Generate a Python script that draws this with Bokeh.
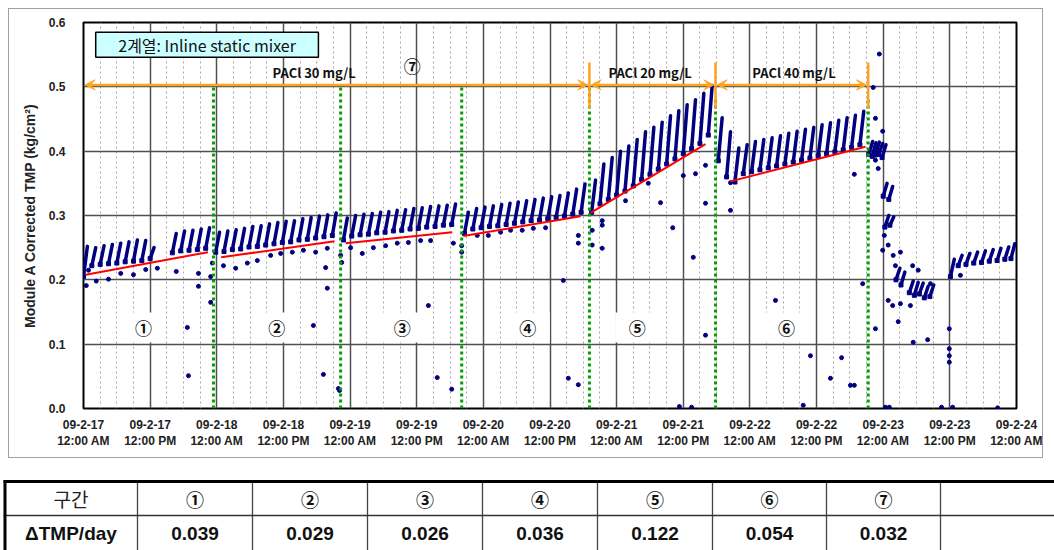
from bokeh.plotting import figure
from bokeh.layouts import column
from bokeh.models import (Range1d, FixedTicker, NumeralTickFormatter, Arrow,
                          VeeHead, ColumnDataSource, InlineStyleSheet)
from bokeh.core.properties import value
from bokeh.embed import file_html
from bokeh.resources import INLINE

# ---------------- data (x in hours since 09-2-17 12:00 AM) ----------------
x_tick_hours = [0, 12, 24, 36, 48, 60, 72, 84, 96, 108, 120, 132, 144, 156, 168]
x_tick_labels = ["09-2-17\n12:00 AM", "09-2-17\n12:00 PM", "09-2-18\n12:00 AM",
                 "09-2-18\n12:00 PM", "09-2-19\n12:00 AM", "09-2-19\n12:00 PM",
                 "09-2-20\n12:00 AM", "09-2-20\n12:00 PM", "09-2-21\n12:00 AM",
                 "09-2-21\n12:00 PM", "09-2-22\n12:00 AM", "09-2-22\n12:00 PM",
                 "09-2-23\n12:00 AM", "09-2-23\n12:00 PM", "09-2-24\n12:00 AM"]
y_ticks = [0.0, 0.1, 0.2, 0.3, 0.4, 0.5, 0.6]

# filtration cycles (saw teeth): start hour, TMP at start, TMP at end
seg1_t = [0.0, 1.5, 3.0, 4.5, 6.0, 7.5, 9.0, 10.5, 12.0]
seg1_lo = [0.205, 0.222, 0.224, 0.225, 0.226, 0.228, 0.229, 0.230, 0.233]
seg1_hi = [0.252, 0.250, 0.253, 0.255, 0.257, 0.259, 0.262, 0.261, 0.250]

seg2_t = [16.0, 17.5, 19.0, 20.5, 22.0]
seg2_lo = [0.242, 0.245, 0.246, 0.247, 0.249]
seg2_hi = [0.272, 0.276, 0.277, 0.279, 0.281]

seg3_t = [23.8, 25.3, 26.8, 28.3, 29.8, 31.3, 32.8, 34.3, 35.8, 37.3, 38.8, 40.3, 41.8, 43.3, 44.8]
seg3_lo = [0.243, 0.244, 0.247, 0.248, 0.251, 0.252, 0.254, 0.256, 0.258, 0.259, 0.262, 0.263, 0.265, 0.267, 0.269]
seg3_hi = [0.274, 0.276, 0.278, 0.280, 0.283, 0.284, 0.287, 0.289, 0.291, 0.292, 0.295, 0.297, 0.299, 0.301, 0.304]

seg4_t = [46.8, 48.3, 49.8, 51.3, 52.8, 54.3, 55.8, 57.3, 58.8, 60.3, 61.8, 63.3, 64.8, 66.3]
seg4_lo = [0.262, 0.268, 0.270, 0.271, 0.273, 0.274, 0.276, 0.277, 0.279, 0.280, 0.282, 0.283, 0.285, 0.286]
seg4_hi = [0.296, 0.300, 0.302, 0.303, 0.305, 0.306, 0.308, 0.309, 0.311, 0.312, 0.314, 0.315, 0.316, 0.318]

seg5_t = [68.6, 70.1, 71.6, 73.1, 74.6, 76.1, 77.6, 79.1, 80.6, 82.1, 83.6, 85.1, 86.6, 88.1, 89.6]
seg5_lo = [0.272, 0.279, 0.281, 0.283, 0.284, 0.286, 0.288, 0.290, 0.292, 0.293, 0.295, 0.297, 0.299, 0.302, 0.305]
seg5_hi = [0.305, 0.311, 0.313, 0.315, 0.317, 0.319, 0.321, 0.323, 0.325, 0.327, 0.329, 0.331, 0.335, 0.341, 0.349]

seg6_t = [91.5, 93.0, 94.5, 96.0, 97.5, 99.0, 100.5, 102.0, 103.5, 105.0, 106.5, 108.0, 109.5, 111.0, 112.5]
seg6_lo = [0.305, 0.318, 0.325, 0.332, 0.338, 0.346, 0.356, 0.364, 0.372, 0.380, 0.388, 0.396, 0.404, 0.412, 0.425]
seg6_hi = [0.355, 0.380, 0.390, 0.400, 0.408, 0.418, 0.430, 0.437, 0.445, 0.455, 0.463, 0.472, 0.480, 0.490, 0.502]

seg7_t = [114.3, 115.8, 117.3, 118.8, 120.3, 121.8, 123.3, 124.8, 126.3, 127.8, 129.3, 130.8,
          132.3, 133.8, 135.3, 136.8, 138.3, 139.8]
seg7_lo = [0.385, 0.360, 0.352, 0.365, 0.368, 0.371, 0.374, 0.377, 0.380, 0.383, 0.386, 0.389,
           0.393, 0.396, 0.399, 0.402, 0.406, 0.410]
seg7_hi = [0.452, 0.430, 0.405, 0.410, 0.415, 0.418, 0.421, 0.424, 0.428, 0.431, 0.434, 0.437,
           0.441, 0.444, 0.448, 0.452, 0.456, 0.462]

seg8_t = [141.4, 142.0, 142.6, 143.2, 143.8, 144.0, 145.0, 144.3, 145.2, 146.3, 147.2, 148.7,
          149.6, 150.5, 151.4, 152.4]
seg8_lo = [0.395, 0.392, 0.394, 0.395, 0.390, 0.330, 0.325, 0.282, 0.285, 0.200, 0.192, 0.180,
           0.176, 0.178, 0.172, 0.174]
seg8_hi = [0.415, 0.413, 0.414, 0.412, 0.410, 0.350, 0.345, 0.300, 0.298, 0.218, 0.212, 0.198,
           0.196, 0.195, 0.190, 0.192]

seg9_t = [156.1, 157.5, 158.9, 160.3, 161.7, 163.1, 164.5, 165.9, 167.0]
seg9_lo = [0.205, 0.222, 0.224, 0.226, 0.227, 0.229, 0.230, 0.232, 0.233]
seg9_hi = [0.232, 0.238, 0.241, 0.243, 0.245, 0.247, 0.249, 0.251, 0.256]

# scattered single readings
out_h = [0.5, 0.9, 2.3, 4.5, 6.7, 9.0, 11.2, 13.3, 18.7, 18.9, 20.7, 20.7, 16.7, 22.9, 22.9, 23.2,
         25.2, 27.4, 29.5, 31.3, 33.7, 35.5, 37.6, 39.6, 41.8, 43.9, 41.4, 43.2, 43.6, 43.9, 45.9,
         46.1, 46.3, 46.5,
         48.1, 50.2, 52.2, 54.4, 56.5, 58.5, 60.7, 62.5, 66.6, 62.1, 63.7, 66.3, 68.1, 68.1,
         70.9, 72.9, 75.1, 76.9, 79.0, 81.0, 83.2, 86.4, 87.3, 89.1, 89.1, 89.1,
         93.4, 93.4, 93.4, 97.6, 101.7, 103.9, 106.1, 108.0, 110.2, 112.0, 112.0, 109.8, 112.0,
         107.3, 109.5, 91.6, 91.6,
         116.5, 116.5, 129.6, 130.9, 136.5, 134.5, 138.1, 124.6, 138.8, 138.8, 140.3,
         143.3, 142.2, 142.6, 143.9, 142.6, 146.7, 149.4, 152.0, 155.9, 155.9, 155.9, 155.9,
         144.4, 145.1, 154.5, 156.5, 164.6, 142.6, 143.1, 144.2, 143.9, 144.9, 145.8, 147.1,
         146.2, 149.3, 150.3, 144.9, 145.7, 147.1, 148.9, 152.5, 157.9]
out_v = [0.191, 0.215, 0.198, 0.201, 0.210, 0.208, 0.216, 0.218, 0.126, 0.051, 0.190, 0.210, 0.213,
         0.165, 0.205, 0.226,
         0.222, 0.218, 0.226, 0.230, 0.238, 0.241, 0.243, 0.246, 0.243, 0.249, 0.129, 0.053, 0.219,
         0.187, 0.031, 0.028, 0.238, 0.227,
         0.250, 0.241, 0.250, 0.253, 0.257, 0.258, 0.261, 0.261, 0.257, 0.160, 0.048, 0.030, 0.253,
         0.243,
         0.269, 0.269, 0.274, 0.277, 0.277, 0.280, 0.281, 0.199, 0.047, 0.037, 0.269, 0.257,
         0.292, 0.285, 0.249, 0.323, 0.350, 0.320, 0.281, 0.362, 0.365, 0.378, 0.319, 0.235, 0.114,
         0.003, 0.002, 0.277, 0.254,
         0.308, 0.351, 0.005, 0.082, 0.079, 0.047, 0.036, 0.168, 0.364, 0.036, 0.194,
         0.551, 0.499, 0.451, 0.431, 0.124, 0.135, 0.103, 0.107, 0.124, 0.093, 0.082, 0.072,
         0.002, 0.002, 0.002, 0.002, 0.001, 0.386, 0.373, 0.269, 0.246, 0.254, 0.238, 0.243,
         0.222, 0.222, 0.215, 0.168, 0.160, 0.163, 0.160, 0.194, 0.207]

# red trend lines for periods 1-6
trend_h0 = [0.4, 24.8, 47.2, 68.4, 91.3, 116.5]
trend_v0 = [0.208, 0.235, 0.257, 0.268, 0.304, 0.353]
trend_h1 = [22.4, 45.2, 66.4, 89.5, 112.0, 140.8]
trend_v1 = [0.243, 0.260, 0.274, 0.299, 0.411, 0.407]

# period boundaries (green dotted) and dosing boundaries (orange)
green_h = [23.4, 46.3, 68.1, 91.1, 113.8, 141.3]
green_top = [0.50, 0.50, 0.50, 0.50, 0.48, 0.48]
dose_h = [91.1, 113.8, 141.3]
dose_arrow_h0 = [0.3, 91.4, 114.1]
dose_arrow_h1 = [90.8, 113.5, 141.0]
dose_text = ["PACl  30 mg/L", "PACl  20 mg/L", "PACl  40 mg/L"]
dose_text_h = [41.8, 102.3, 128.2]

period_marks = ["①", "②", "③", "④", "⑤", "⑥"]
period_mark_h = [10.8, 34.8, 57.4, 80.0, 99.7, 126.6]

table_head = ["구간", "①", "②", "③", "④", "⑤", "⑥", "⑦", ""]
table_vals = ["ΔTMP/day", "0.039", "0.029", "0.026", "0.036", "0.122", "0.054", "0.032", ""]

# ---------------- chart ----------------
NAVY = "#000080"
ORANGE = "#ffa320"
GREEN = "#00a000"

p = figure(width=1054, height=470, x_range=Range1d(0, 168), y_range=Range1d(0, 0.6),
           output_backend="svg", toolbar_location=None,
           min_border_left=83, min_border_right=38, min_border_top=22, min_border_bottom=62)
p.frame_align = False
p.stylesheets = [InlineStyleSheet(css=(
    ":host::after { content: ''; position: absolute; left: 8px; top: 8px; "
    "width: 1035px; height: 450px; border: 1.5px solid #a0a0a0; "
    "pointer-events: none; z-index: 100; box-sizing: border-box; }"))]
p.background_fill_color = "white"
p.border_fill_color = "white"
p.outline_line_color = "black"
p.outline_line_width = 2

p.xaxis.ticker = FixedTicker(ticks=x_tick_hours,
                             minor_ticks=[h for h in range(0, 169, 3) if h % 12])
p.xaxis.major_label_overrides = {h: lab for h, lab in zip(x_tick_hours, x_tick_labels)}
p.yaxis.ticker = FixedTicker(ticks=y_ticks)
p.yaxis.formatter = NumeralTickFormatter(format="0.0")
for ax in (p.xaxis[0], p.yaxis[0]):
    ax.axis_line_color = None
    ax.major_tick_line_color = None
    ax.minor_tick_line_color = None
    ax.major_label_text_font = "Liberation Sans"
    ax.major_label_text_font_style = "bold"
    ax.major_label_text_color = "#222222"
p.xaxis.major_label_text_font_size = "12px"
p.xaxis.major_label_standoff = 3
p.yaxis.major_label_text_font_size = "12px"
p.yaxis.major_label_standoff = 12
p.yaxis.axis_label = "Module A Corrected TMP (kg/cm²)"
p.yaxis.axis_label_text_font = "Liberation Sans"
p.yaxis.axis_label_text_font_style = "bold"
p.yaxis.axis_label_text_font_size = "14px"
p.yaxis.axis_label_text_color = "#222222"
p.yaxis.axis_label_standoff = 8

p.xgrid.grid_line_color = "#505050"
p.xgrid.grid_line_width = 1.5
p.xgrid.minor_grid_line_color = "#a8a8a8"
p.xgrid.minor_grid_line_dash = "2 3"
p.ygrid.grid_line_color = "#505050"
p.ygrid.grid_line_width = 1.5

# white boxes behind period numbers
p.rect(x=period_mark_h, y=[0.126] * len(period_mark_h), width=44, height=30,
       width_units="screen", height_units="screen", fill_color="white", line_color=None)

# saw teeth
TOOTH_SPAN = 0.7
all_t = seg1_t + seg2_t + seg3_t + seg4_t + seg5_t + seg6_t + seg7_t + seg8_t + seg9_t
all_lo = seg1_lo + seg2_lo + seg3_lo + seg4_lo + seg5_lo + seg6_lo + seg7_lo + seg8_lo + seg9_lo
all_hi = seg1_hi + seg2_hi + seg3_hi + seg4_hi + seg5_hi + seg6_hi + seg7_hi + seg8_hi + seg9_hi
teeth = ColumnDataSource(dict(x0=all_t, y0=all_lo,
                              x1=[t + TOOTH_SPAN for t in all_t], y1=all_hi))
p.segment(x0="x0", y0="y0", x1="x1", y1="y1", source=teeth, line_color=NAVY,
          line_width=3.5, line_cap="round")
p.scatter(x=all_t, y=all_lo, size=4, marker="square", fill_color=NAVY, line_color=NAVY)
p.scatter(x=out_h, y=out_v, size=4, marker="circle", fill_color=NAVY, line_color=NAVY)

# trend lines
p.segment(x0=trend_h0, y0=trend_v0, x1=trend_h1, y1=trend_v1, line_color="#ff0000", line_width=2)

# green boundaries
p.segment(x0=green_h, y0=[0] * len(green_h), x1=green_h, y1=green_top,
          line_color=GREEN, line_width=3, line_dash="3 3")

# orange dosing markers
p.segment(x0=dose_h, y0=[0.466] * 3, x1=dose_h, y1=[0.538] * 3, line_color=ORANGE, line_width=2.5)
for a, b in zip(dose_arrow_h0, dose_arrow_h1):
    p.add_layout(Arrow(x_start=a, y_start=0.503, x_end=b, y_end=0.503,
                       line_color=ORANGE, line_width=2.5,
                       start=VeeHead(size=10, fill_color=ORANGE, line_color=ORANGE),
                       end=VeeHead(size=10, fill_color=ORANGE, line_color=ORANGE)))
p.text(x=dose_text_h, y=[0.523] * 3, text=dose_text, text_font=value("Noto Sans CJK KR"),
       text_font_size="13px", text_font_style="bold", text_align="center",
       text_baseline="middle", text_color="#111111")
p.text(x=[59.2], y=[0.533], text=["⑦"], text_font=value("Noto Sans CJK KR"),
       text_font_size="17px", text_font_style="bold", text_align="center",
       text_baseline="middle", text_color="#111111")

# title box
p.quad(left=[2.2], right=[42.3], bottom=[0.546], top=[0.585], fill_color="#ccffff",
       line_color="black", line_width=1.5)
p.text(x=[22.25], y=[0.5655], text=["2계열: Inline static mixer"],
       text_font=value("Noto Sans CJK KR"), text_font_size="16px",
       text_align="center", text_baseline="middle", text_color="#111111")

# period numbers
p.text(x=period_mark_h, y=[0.126] * len(period_mark_h), text=period_marks,
       text_font=value("Noto Sans CJK KR"), text_font_size="17px", text_font_style="bold",
       text_align="center", text_baseline="middle", text_color="#111111")

# ---------------- table ----------------
t = figure(width=1054, height=80, x_range=Range1d(0, 1054), y_range=Range1d(80, 0),
           output_backend="svg", toolbar_location=None, min_border=0,
           x_axis_location=None, y_axis_location=None)
t.frame_align = False
t.grid.visible = False
t.outline_line_color = None
t.background_fill_color = "white"
t.border_fill_color = "white"

col_edges = [4, 137, 252, 367, 482, 597, 712, 826, 940, 1054]
col_mid = [(a + b) / 2 for a, b in zip(col_edges[:-1], col_edges[1:])]
t.segment(x0=col_edges[1:-1], y0=[11] * 8, x1=col_edges[1:-1], y1=[80] * 8,
          line_color="#444444", line_width=1.3)
t.segment(x0=[3], y0=[45], x1=[1054], y1=[45], line_color="#333333", line_width=1.5)
t.segment(x0=[3], y0=[11], x1=[1054], y1=[11], line_color="black", line_width=3)
t.segment(x0=[4.5], y0=[10], x1=[4.5], y1=[80], line_color="black", line_width=3)
t.text(x=col_mid[:1], y=[28], text=table_head[:1], text_font=value("Noto Sans CJK KR"),
       text_font_size="19px", text_align="center", text_baseline="middle", text_color="#222222")
t.text(x=col_mid[1:], y=[28] * 8, text=table_head[1:], text_font=value("Noto Sans CJK KR"),
       text_font_size="18px", text_font_style="bold", text_align="center",
       text_baseline="middle", text_color="#111111")
t.text(x=col_mid, y=[63] * 9, text=table_vals, text_font=value("Liberation Sans"),
       text_font_style="bold", text_font_size="19px", text_align="center",
       text_baseline="middle", text_color="#111111")

layout = column(p, t, spacing=0)
open("out.html", "w").write(file_html(layout, INLINE))
